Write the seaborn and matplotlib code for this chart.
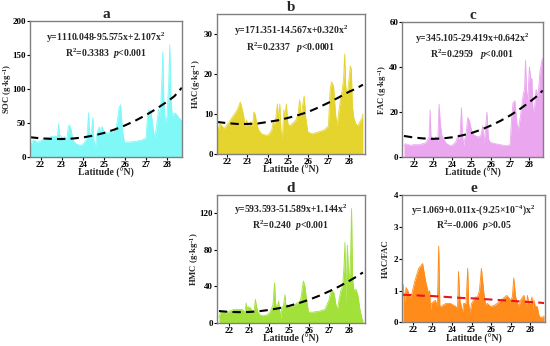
import numpy as np
import pandas as pd
import matplotlib
matplotlib.use("Agg")
import matplotlib.pyplot as plt
import seaborn as sns

sns.set_style("white")
plt.rcParams['font.family'] = ['Liberation Serif', 'DejaVu Serif']
plt.rcParams['font.weight'] = 'bold'
plt.rcParams['mathtext.fontset'] = 'custom'
plt.rcParams['mathtext.rm'] = 'Liberation Serif:bold'
plt.rcParams['mathtext.it'] = 'Liberation Serif:italic:bold'
plt.rcParams['mathtext.bf'] = 'Liberation Serif:bold'

lat = [21.50, 21.58, 21.65, 21.75, 21.85, 21.95, 22.10, 22.30, 22.50, 22.65,
       22.80, 22.86, 22.90, 22.95, 23.05, 23.15, 23.25, 23.32, 23.38, 23.45,
       23.55, 23.70, 23.90, 24.05, 24.20, 24.28, 24.33, 24.40, 24.48, 24.53,
       24.60, 24.65, 24.72, 24.80, 24.85, 24.92, 25.00, 25.10, 25.20, 25.30,
       25.40, 25.50, 25.58, 25.65, 25.72, 25.80, 25.88, 25.98, 26.20, 26.50,
       26.80, 27.00, 27.08, 27.15, 27.25, 27.35, 27.42, 27.50, 27.60, 27.68,
       27.75, 27.80, 27.85, 27.92, 28.00, 28.08, 28.13, 28.18, 28.25, 28.35,
       28.45, 28.55, 28.65, 28.70]

soc = [18, 20, 25, 24, 21, 23, 26, 28, 30, 31,
       30, 49, 30, 32, 28, 30, 26, 45, 47, 40,
       24, 19, 17, 20, 28, 65, 35, 33, 58, 25,
       12, 30, 40, 44, 36, 45, 38, 36, 35, 38,
       36, 40, 42, 55, 72, 77, 40, 22, 22, 23,
       25, 28, 62, 70, 65, 40, 28, 45, 70, 60,
       110, 155, 80, 50, 60, 110, 165, 90, 60, 65,
       63, 58, 55, 52]

hac = [7.5, 6, 7.5, 7, 6.3, 7, 8, 9.5, 11, 13,
       10, 8, 6, 8.5, 7, 8, 6.5, 10.5, 10, 8,
       6, 5, 4.7, 4.8, 6, 8, 7, 9, 12.5, 8,
       12.5, 6, 3.5, 11, 9, 12.5, 7.5, 7, 7.5, 8,
       8.5, 10, 13.5, 9, 12, 14.5, 9, 5.5, 5, 5.5,
       6, 7, 16, 18, 17, 10, 7, 10, 14, 16,
       19, 25, 17, 14, 18, 22, 21, 12, 9, 7.5,
       7, 8, 9, 10]

fac = [5, 6, 5.5, 5.5, 5, 5.5, 5.5, 5.5, 6, 6.5,
       9, 21, 8, 9, 8, 9, 7, 23.5, 15, 10,
       8, 6, 5, 5.5, 7, 9, 8, 9, 22, 10,
       5, 8, 10, 17.5, 17, 15, 12, 10, 9.5, 9,
       9, 10, 14, 6, 12, 20, 8, 6.5, 6, 5.5,
       5, 5.5, 17, 24, 25, 15, 12, 16, 22, 28,
       30, 43, 30, 25, 40, 34, 35, 22, 20, 30,
       27, 38, 43, 44]

hmc = [6, 12, 13, 12, 11, 12, 14, 15, 15, 15,
       12, 22, 14, 18, 17, 14, 12, 26, 18, 12,
       9, 8, 9, 12, 20, 44, 22, 15, 24, 15,
       5, 18, 18, 31, 18, 20, 18, 18, 19, 20,
       22, 23, 25, 35, 46, 40, 25, 12, 12, 13,
       15, 25, 33, 36, 33, 20, 14, 25, 36, 40,
       60, 88, 20, 85, 40, 70, 125, 50, 35, 37,
       30, 15, 5, 3]

ratio = [1.2, 0.65, 1.1, 1.0, 0.8, 0.9, 1.3, 1.7, 1.85, 1.3,
         0.9, 1.0, 0.4, 0.6, 0.65, 0.7, 0.5, 2.4, 0.5, 0.5,
         0.55, 0.6, 0.6, 0.55, 0.5, 0.4, 1.6, 0.7, 0.5, 0.3,
         0.6, 0.6, 0.6, 1.7, 0.6, 0.3, 0.6, 0.7, 0.8, 0.8,
         1.0, 1.7, 1.2, 0.8, 0.55, 0.6, 0.55, 0.5, 0.55, 0.7,
         0.85, 0.7, 0.8, 1.4, 0.8, 0.6, 0.5, 0.7, 0.8, 0.85,
         0.6, 0.5, 0.85, 0.6, 0.6, 0.8, 0.4, 0.7, 0.5, 0.5,
         0.2, 0.15, 0.18, 0.2]

trend_lat = [21.5, 22.0, 22.5, 23.0, 23.5, 24.0, 24.5, 25.0, 25.5, 26.0,
             26.5, 27.0, 27.5, 28.0, 28.35, 28.7]
soc_trend = [29.2, 27.6, 26.8, 26.5, 27.2, 28.8, 31.6, 35.4, 40.4, 46.5,
             53.6, 61.8, 71.1, 81.5, 89.5, 102.0]
hac_trend = [8.0, 7.7, 7.5, 7.5, 7.6, 8.0, 8.4, 9.0, 9.7, 10.5,
             11.6, 12.8, 14.1, 15.5, 16.3, 17.3]
fac_trend = [9.4, 8.7, 8.3, 8.1, 8.3, 8.8, 9.6, 10.7, 12.2, 14.0,
             16.1, 18.5, 21.3, 24.4, 26.8, 29.6]
hmc_trend = [13.2, 12.3, 12.0, 12.2, 13.0, 14.4, 16.3, 18.8, 21.9, 25.5,
             29.8, 34.6, 39.9, 45.9, 50.4, 55.3]
ratio_trend = [0.87, 0.86, 0.84, 0.83, 0.81, 0.79, 0.77, 0.76, 0.74, 0.72,
               0.70, 0.68, 0.66, 0.64, 0.63, 0.61]

panels = [
    dict(key="a", vals=soc, trend=soc_trend, color="#80F8F8", tcolor="black",
         ylabel="SOC (g·kg$^{-1}$)", ylim=(0, 200), yticks=[0, 50, 100, 150, 200],
         eq="y=1110.048-95.575x+2.107x$^2$", r2="R$^2$=0.3383  $\\it{p}$<0.001",
         rect=[0.0545, 0.546, 0.276, 0.393], xlim=(21.5, 28.7), ylx=-0.105),
    dict(key="b", vals=hac, trend=hac_trend, color="#E6D42E", tcolor="black",
         ylabel="HAC(g·kg$^{-1}$)", ylim=(0, 35), yticks=[0, 10, 20, 30],
         eq="y=171.351-14.567x+0.320x$^2$", r2="R$^2$=0.2337   $\\it{p}$<0.0001",
         rect=[0.3945, 0.555, 0.269, 0.405], xlim=(21.5, 28.8), ylx=-0.095),
    dict(key="c", vals=fac, trend=fac_trend, color="#EBA6F0", tcolor="black",
         ylabel="FAC (g·kg$^{-1}$)", ylim=(0, 60), yticks=[0, 20, 40, 60],
         eq="y=345.105-29.419x+0.642x$^2$", r2="R$^2$=0.2959   $\\it{p}$<0.001",
         rect=[0.731, 0.546, 0.256, 0.390], xlim=(21.4, 28.7), ylx=-0.092),
    dict(key="d", vals=hmc, trend=hmc_trend, color="#A2E03A", tcolor="black",
         ylabel="HMC (g·kg$^{-1}$)", ylim=(0, 140), yticks=[0, 40, 80, 120],
         eq="y=593.593-51.589x+1.144x$^2$", r2="R$^2$=0.240  $\\it{p}$<0.001",
         rect=[0.3945, 0.066, 0.269, 0.371], xlim=(21.4, 28.8), ylx=-0.105),
    dict(key="e", vals=ratio, trend=ratio_trend, color="#FF8C1A", tcolor="#E8141E",
         ylabel="HAC/FAC", ylim=(0, 4), yticks=[0, 1, 2, 3, 4],
         eq="y=1.069+0.011x-(9.25×10$^{-4}$)x$^2$", r2="R$^2$=-0.006  $\\it{p}$>0.05",
         rect=[0.731, 0.068, 0.26, 0.368], xlim=(21.45, 28.75), ylx=-0.085),
]

fig = plt.figure(figsize=(5.5, 3.46), dpi=100)

for p in panels:
    ax = fig.add_axes(p["rect"])
    df = pd.DataFrame({"lat": lat, "val": p["vals"]})
    ax.fill_between(df["lat"], 0, df["val"], color=p["color"], linewidth=0)
    sns.lineplot(data=df, x="lat", y="val", color=p["color"], linewidth=0.6, ax=ax)
    tdf = pd.DataFrame({"lat": trend_lat, "val": p["trend"]})
    sns.lineplot(data=tdf, x="lat", y="val", color=p["tcolor"], linewidth=1.5,
                 linestyle=(0, (4, 2.5)), ax=ax)
    ax.set_xlim(*p["xlim"])
    ax.set_ylim(*p["ylim"])
    ax.set_xticks([22, 23, 24, 25, 26, 27, 28])
    ax.set_yticks(p["yticks"])
    ax.tick_params(axis="both", labelsize=6.5, length=2, width=0.8, pad=0.8,
                   direction="out", bottom=True, left=True, colors="black")
    for lab in ax.get_xticklabels() + ax.get_yticklabels():
        lab.set_fontweight("bold")
    for s in ax.spines.values():
        s.set_color("#808080")
        s.set_linewidth(1.0)
    ax.set_xlabel("Latitude (°N)", fontsize=7, fontweight="bold", labelpad=-0.5)
    ax.set_ylabel(p["ylabel"], fontsize=6.2, fontweight="bold")
    ax.yaxis.set_label_coords(p["ylx"], 0.5)
    ax.set_title(p["key"], fontsize=11, fontweight="bold", pad=2)
    ax.text(0.5, 0.88, p["eq"], transform=ax.transAxes, ha="center", va="center",
            fontsize=7, fontweight="bold")
    ax.text(0.5, 0.76, p["r2"], transform=ax.transAxes, ha="center", va="center",
            fontsize=7, fontweight="bold")

fig.savefig("out.png", dpi=100)
